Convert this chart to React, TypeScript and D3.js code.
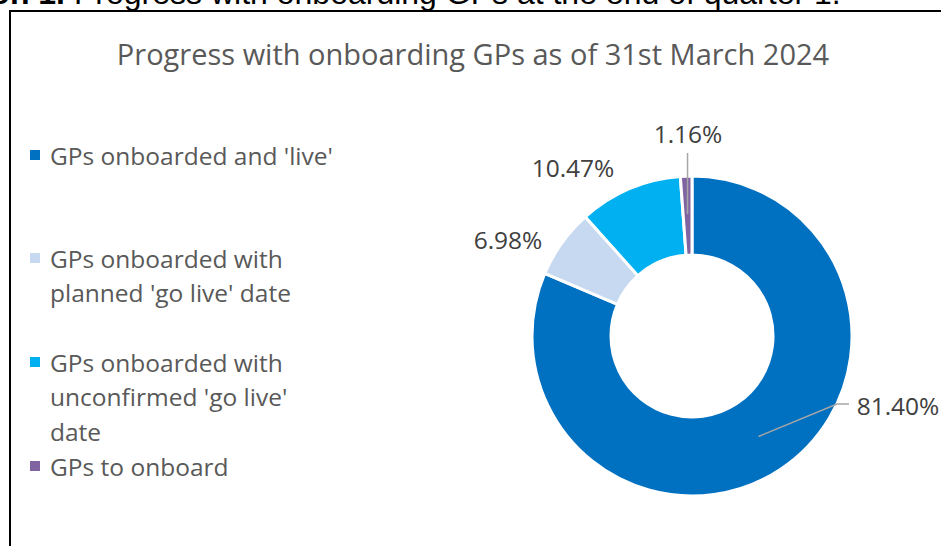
import React from "react";
import * as d3 from "d3";

const categories = [
  "GPs onboarded and 'live'",
  "GPs onboarded with planned 'go live' date",
  "GPs onboarded with unconfirmed 'go live' date",
  "GPs to onboard",
];
const counts = [70, 6, 9, 1];
const percentLabels = ["81.40%", "6.98%", "10.47%", "1.16%"];
const colors = ["#0070C0", "#C6D9F0", "#00B0F0", "#8064A2"];
const legendLines = [
  ["GPs onboarded and 'live'"],
  ["GPs onboarded with", "planned 'go live' date"],
  ["GPs onboarded with", "unconfirmed 'go live'", "date"],
  ["GPs to onboard"],
];
const title = "Progress with onboarding GPs as of 31st March 2024";
const captionPrefix = "ion 1.";
const captionText = "Progress with onboarding GPs at the end of quarter 1.";

const W = 941;
const H = 546;
const cx = 692;
const cy = 336;
const rOuter = 160;
const rInner = 81;
const FONT = "'Open Sans', 'Noto Sans', sans-serif";
const CAP_FONT = "'Liberation Sans', Arial, sans-serif";

export default function App() {
  const pie = d3
    .pie<number>()
    .sort(null)
    .value((d) => d);
  const arcs = pie(counts);
  const arcGen = d3
    .arc<d3.PieArcDatum<number>>()
    .innerRadius(rInner)
    .outerRadius(rOuter);

  const labelPos = [
    { x: 898, y: 405 },
    { x: 508, y: 239 },
    { x: 573, y: 167 },
    { x: 688, y: 133 },
  ];

  const a0 = arcs[0];
  const mid0 = (a0.startAngle + a0.endAngle) / 2;
  const rMid = (rInner + rOuter) / 2;
  const p0x = cx + Math.sin(mid0) * rMid;
  const p0y = cy - Math.cos(mid0) * rMid;
  const a3 = arcs[3];
  const mid3 = (a3.startAngle + a3.endAngle) / 2;
  const p3x = cx + Math.sin(mid3) * (rOuter - 38);
  const p3y = cy - Math.cos(mid3) * (rOuter - 38);

  const legendY = [155, 258, 362, 466];
  const lineH = 34.5;

  return (
    <svg
      width={W}
      height={H}
      style={{ position: "absolute", left: 0, top: 0, display: "block", background: "#fff" }}
    >
      <text x={65} y={4} fontFamily={CAP_FONT} fontSize={32} fontWeight="bold" fill="#000" textAnchor="end">
        {captionPrefix}
      </text>
      <text x={74} y={4} fontFamily={CAP_FONT} fontSize={32} fill="#000">
        {captionText}
      </text>
      <path d={`M10,${H} L10,11 L${W},11`} fill="none" stroke="#000" strokeWidth={2} />

      <text x={473} y={65} textAnchor="middle" fontFamily={FONT} fontSize={29} fill="#595959">
        {title}
      </text>

      <g transform={`translate(${cx},${cy})`}>
        {arcs.map((a, i) => (
          <path key={categories[i]} d={arcGen(a) || ""} fill={colors[i]} stroke="#fff" strokeWidth={3} />
        ))}
      </g>

      <polyline
        points={`${p0x},${p0y} 837,404 849,404`}
        fill="none"
        stroke="#A6A6A6"
        strokeWidth={1.5}
      />
      <line x1={p3x} y1={153} x2={p3x} y2={p3y} stroke="#A6A6A6" strokeWidth={1.5} />

      {percentLabels.map((t, i) => (
        <text
          key={t}
          x={labelPos[i].x}
          y={labelPos[i].y}
          textAnchor="middle"
          dominantBaseline="central"
          fontFamily={FONT}
          fontSize={24.5}
          fill="#404040"
        >
          {t}
        </text>
      ))}

      {legendLines.map((lines, i) => (
        <g key={categories[i]}>
          <rect x={30} y={legendY[i] - 5} width={10} height={10} fill={colors[i]} />
          {lines.map((ln, j) => (
            <text
              key={j}
              x={50}
              y={legendY[i] + j * lineH}
              dominantBaseline="central"
              fontFamily={FONT}
              fontSize={24.5}
              fill="#595959"
            >
              {ln}
            </text>
          ))}
        </g>
      ))}
    </svg>
  );
}
